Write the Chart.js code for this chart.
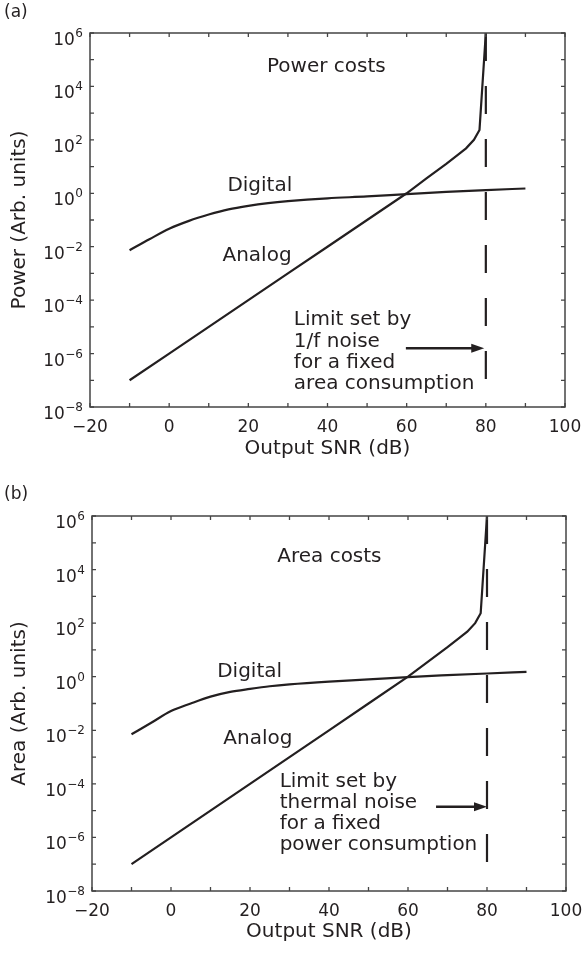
<!DOCTYPE html>
<html>
<head>
<meta charset="utf-8">
<script src="https://cdn.jsdelivr.net/npm/chart.js@4.4.0/dist/chart.umd.min.js"></script>
<style>
  html, body { margin: 0; padding: 0; background: #fff; }
  canvas { display: block; }
</style>
</head>
<body>
<canvas id="power_graph" width="587" height="480"></canvas>
<canvas id="area_graph" width="587" height="480"></canvas>
<script>
// values (output SNR in dB, cost in arb. units)
const snr = [-10, -5, 0, 5, 10, 15, 20, 25, 30, 40, 50, 60, 70, 80, 90];
const digitalPower = [0.0074, 0.019, 0.047, 0.093, 0.16, 0.25, 0.34, 0.43, 0.51, 0.65, 0.76, 0.93, 1.12, 1.32, 1.51];
const digitalArea = [0.0071, 0.019, 0.052, 0.1, 0.18, 0.27, 0.35, 0.44, 0.52, 0.66, 0.79, 0.97, 1.14, 1.32, 1.51];

const analogSnr = [-10, 0, 10, 20, 30, 40, 50, 60, 65, 70, 73, 75, 77, 78.4, 80];
const analogPower = [1e-7, 1e-6, 1e-5, 1e-4, 1e-3, 1e-2, 0.1, 1, 3.6, 12.6, 28, 48, 100, 235, 1e6];
const analogArea = [1e-7, 1e-6, 1e-5, 1e-4, 1e-3, 1e-2, 0.1, 1, 3.6, 12.6, 28, 48, 100, 235, 1e6];

// the dashed limit line
const limitSnr = 80;
const limitSpan = [1e6, 1e-7];

const xTicks = [-20, 0, 20, 40, 60, 80, 100];
const yExponents = [-8, -6, -4, -2, 0, 2, 4, 6];

const powerNote = ['Limit set by', '1/f noise', 'for a fixed', 'area consumption'];
const areaNote = ['Limit set by', 'thermal noise', 'for a fixed', 'power consumption'];

const ink = '#231f20';
const frame = '#444444';
const fontFamily = '"DejaVu Sans", "Liberation Sans", sans-serif';

function makeFigurePlugin(panel) {
    return {
        id: 'figure_' + panel.letter,
        afterDraw(chart) {
            const ctx = chart.ctx;
            const a = chart.chartArea;
            const x = chart.scales.x, y = chart.scales.y;
            ctx.save();

            // box round the plot
            ctx.strokeStyle = frame;
            ctx.lineWidth = 1.5;
            ctx.strokeRect(a.left, a.top, a.right - a.left, a.bottom - a.top);

            // inward ticks on all four sides
            ctx.beginPath();
            for (let v = xTicks[0]; v <= xTicks[xTicks.length - 1]; v += 10) {
                const px = x.getPixelForValue(v);
                ctx.moveTo(px, a.bottom); ctx.lineTo(px, a.bottom - 4);
                ctx.moveTo(px, a.top); ctx.lineTo(px, a.top + 4);
            }
            for (let e = yExponents[0]; e <= yExponents[yExponents.length - 1]; e++) {
                const py = y.getPixelForValue(Math.pow(10, e));
                ctx.moveTo(a.left, py); ctx.lineTo(a.left + 4, py);
                ctx.moveTo(a.right, py); ctx.lineTo(a.right - 4, py);
            }
            ctx.lineWidth = 1.3;
            ctx.stroke();

            // y tick labels as 10 with a raised exponent
            ctx.fillStyle = ink;
            ctx.textBaseline = 'alphabetic';
            yExponents.forEach(e => {
                const py = y.getPixelForValue(Math.pow(10, e));
                const sup = (e < 0 ? '\u2212' : '') + Math.abs(e);
                const right = a.left - 7;
                ctx.font = '12px ' + fontFamily;
                const w = ctx.measureText(sup).width;
                ctx.textAlign = 'left';
                ctx.fillText(sup, right - w, py + 4);
                ctx.font = '17px ' + fontFamily;
                ctx.textAlign = 'right';
                ctx.fillText('10', right - w - 0.5, py + 12);
            });

            // text in the plot
            ctx.font = '20px ' + fontFamily;
            ctx.textBaseline = 'middle';
            panel.notes.forEach(n => {
                ctx.textAlign = n.align;
                const px = x.getPixelForValue(n.x);
                const py = y.getPixelForValue(n.y);
                n.lines.forEach((t, i) => ctx.fillText(t, px, py + i * n.step));
            });

            // arrow pointing at the limit
            const ay = y.getPixelForValue(panel.arrow.y);
            const ax0 = x.getPixelForValue(panel.arrow.from);
            const ax1 = x.getPixelForValue(panel.arrow.to);
            ctx.strokeStyle = ink;
            ctx.lineWidth = 2.5;
            ctx.beginPath();
            ctx.moveTo(ax0, ay); ctx.lineTo(ax1 - 10, ay);
            ctx.stroke();
            ctx.beginPath();
            ctx.moveTo(ax1, ay);
            ctx.lineTo(ax1 - 13, ay - 4.5);
            ctx.lineTo(ax1 - 13, ay + 4.5);
            ctx.closePath();
            ctx.fill();

            // panel letter
            ctx.font = '17px ' + fontFamily;
            ctx.textAlign = 'left';
            ctx.textBaseline = 'middle';
            ctx.fillText('(' + panel.letter + ')', 4, panel.letterY);
            ctx.restore();
        }
    };
}

function drawPanel(id, panel) {
    const ctx = document.getElementById(id).getContext('2d');
    return new Chart(ctx, {
        type: 'line',
        data: {
            datasets: [{
                label: 'Digital',
                data: snr.map((s, i) => ({x: s, y: panel.digital[i]})),
                borderColor: ink,
                borderWidth: 2.2,
                pointRadius: 0,
                cubicInterpolationMode: 'monotone',
                fill: false
            }, {
                label: 'Analog',
                data: analogSnr.map((s, i) => ({x: s, y: panel.analog[i]})),
                borderColor: ink,
                borderWidth: 2.2,
                pointRadius: 0,
                tension: 0,
                fill: false
            }, {
                label: 'Limit',
                data: limitSpan.map(v => ({x: limitSnr, y: v})),
                borderColor: ink,
                borderWidth: 2.2,
                borderDash: [28, 25],
                pointRadius: 0,
                fill: false
            }]
        },
        options: {
            responsive: false,
            animation: false,
            devicePixelRatio: 1,
            layout: {padding: {left: 0, top: panel.top, right: 587 - panel.right, bottom: 0}},
            plugins: {legend: {display: false}, tooltip: {enabled: false}},
            scales: {
                x: {
                    type: 'linear',
                    min: -20,
                    max: 100,
                    afterBuildTicks: s => { s.ticks = xTicks.map(v => ({value: v})); },
                    afterFit: s => {
                        s.height = 480 - panel.bottom;
                        s.paddingLeft = 0;
                        s.paddingRight = 0;
                    },
                    grid: {display: false, drawTicks: false},
                    border: {display: false},
                    ticks: {
                        color: ink,
                        padding: 10,
                        maxRotation: 0,
                        font: {family: fontFamily, size: 17},
                        callback: v => String(v).replace('-', '\u2212')
                    },
                    title: {
                        display: true,
                        text: 'Output SNR (dB)',
                        color: ink,
                        font: {family: fontFamily, size: 20},
                        padding: {top: 0, bottom: panel.xTitlePad}
                    }
                },
                y: {
                    type: 'logarithmic',
                    min: 1e-8,
                    max: 1e6,
                    afterFit: s => { s.width = panel.left; },
                    grid: {display: false, drawTicks: false},
                    border: {display: false},
                    ticks: {display: false},
                    title: {
                        display: true,
                        text: panel.yTitle,
                        color: ink,
                        font: {family: fontFamily, size: 20},
                        padding: {top: 8, bottom: 0}
                    }
                }
            }
        },
        plugins: [makeFigurePlugin(panel)]
    });
}

window.power_chart = drawPanel('power_graph', {
    letter: 'a', letterY: 13,
    left: 90, right: 565, top: 33, bottom: 407, xTitlePad: 19,
    yTitle: 'Power (Arb. units)',
    digital: digitalPower, analog: analogPower,
    notes: [
        {lines: ['Power costs'], x: 39.7, y: Math.pow(10, 4.74), align: 'center', step: 0},
        {lines: ['Digital'], x: 22.9, y: Math.pow(10, 0.27), align: 'center', step: 0},
        {lines: ['Analog'], x: 22.2, y: Math.pow(10, -2.35), align: 'center', step: 0},
        {lines: powerNote, x: 31.5, y: Math.pow(10, -4.745), align: 'left', step: 21.3}
    ],
    arrow: {from: 59.8, to: 79.6, y: Math.pow(10, -5.8)}
});

window.area_chart = drawPanel('area_graph', {
    letter: 'b', letterY: 15,
    left: 92, right: 566, top: 36, bottom: 411, xTitlePad: 16,
    yTitle: 'Area (Arb. units)',
    digital: digitalArea, analog: analogArea,
    notes: [
        {lines: ['Area costs'], x: 40.1, y: Math.pow(10, 4.48), align: 'center', step: 0},
        {lines: ['Digital'], x: 19.9, y: Math.pow(10, 0.19), align: 'center', step: 0},
        {lines: ['Analog'], x: 22, y: Math.pow(10, -2.3), align: 'center', step: 0},
        {lines: areaNote, x: 27.5, y: Math.pow(10, -3.92), align: 'left', step: 21.1}
    ],
    arrow: {from: 67.1, to: 80, y: Math.pow(10, -4.85)}
});
</script>
</body>
</html>
